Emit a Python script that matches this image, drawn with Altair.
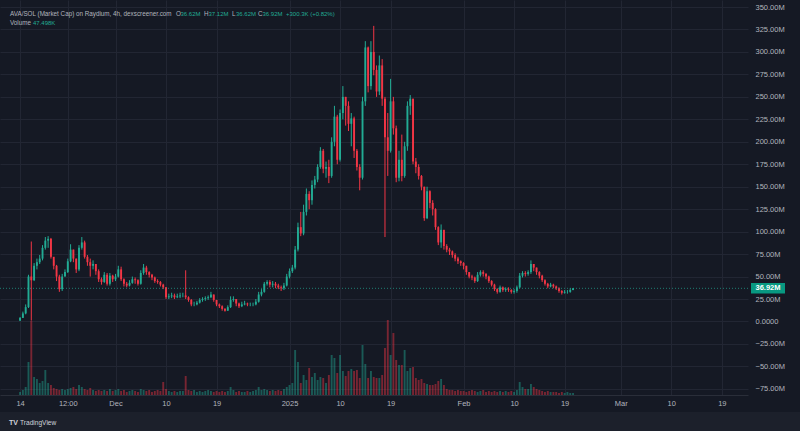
import altair as alt
import pandas as pd
import numpy as np

# ---------------- data (12h candles, market cap in M USD) ----------------
START = "2024-11-14T00:00:00Z"
FIRST_OPEN = 1.0
CLOSE = [4, 9, 16, 50, 46, 62, 66, 70, 82, 90,
         92, 72, 62, 50, 36, 50, 55, 67, 80, 70,
         58, 82, 88, 72, 66, 62, 64, 56, 47, 44,
         52, 42, 51, 47, 50, 58, 47, 42, 40, 43,
         47, 46, 42, 54, 60, 55, 52, 49, 45, 44,
         41, 38, 27, 28, 29, 27, 28, 29, 29, 27,
         24, 19, 19, 21, 24, 25, 26, 27, 30, 24,
         19, 17, 14, 12, 16, 24, 25, 20, 17, 19,
         20, 19, 19, 19, 22, 30, 33, 42, 44, 41,
         42, 40, 38, 37, 40, 50, 56, 60, 80, 105,
         98, 122, 142, 135, 152, 158, 172, 190, 170, 172,
         162, 200, 228, 180, 232, 250, 240, 220, 226, 190,
         172, 160, 245, 305, 262, 300, 280, 256, 285, 248,
         205, 190, 245, 215, 160, 180, 162, 195, 240, 248,
         178, 172, 162, 150, 115, 145, 132, 125, 105, 88,
         102, 84, 80, 78, 74, 70, 67, 65, 62, 55,
         50, 49, 45, 52, 55, 53, 50, 45, 41, 36,
         33, 38, 35, 36, 35, 33, 34, 38, 51, 54,
         53, 55, 64, 60, 55, 51, 46, 42, 39, 41,
         39, 37, 34, 32, 33, 33, 35, 36.92]
HIGH = [5, 11, 19, 52, 89, 65, 70, 74, 85, 94,
        95, 93, 68, 63, 52, 53, 58, 70, 86, 80,
        70, 85, 94, 90, 74, 70, 68, 64, 58, 49,
        55, 54, 54, 52, 53, 62, 61, 48, 44, 46,
        50, 49, 47, 57, 64, 62, 56, 53, 50, 47,
        45, 42, 38, 31, 32, 31, 31, 32, 32, 57,
        28, 25, 22, 23, 26, 27, 28, 29, 33, 30,
        24, 20, 18, 15, 18, 28, 28, 25, 21, 22,
        23, 21, 21, 21, 25, 33, 36, 44, 46, 46,
        45, 44, 42, 40, 43, 53, 59, 63, 84, 110,
        122, 130, 148, 145, 157, 162, 175, 194, 192, 178,
        180, 205, 240, 230, 236, 262, 250, 245, 232, 228,
        192, 175, 250, 312, 306, 312, 329, 285, 296, 292,
        250, 232, 270, 250, 218, 190, 208, 200, 245, 252,
        248, 182, 175, 163, 150, 150, 146, 135, 126, 106,
        108, 102, 86, 82, 79, 76, 72, 68, 66, 62,
        55, 52, 50, 55, 57, 57, 54, 51, 46, 42,
        37, 40, 39, 38, 38, 36, 36, 40, 54, 56,
        56, 57, 68, 64, 60, 56, 52, 47, 43, 43,
        42, 40, 38, 35, 35, 35, 37, 37.12]
LOW = [0.5, 4, 8, 15, 1, 45, 58, 64, 68, 80,
       82, 70, 58, 45, 33, 34, 50, 54, 66, 66,
       54, 56, 80, 70, 62, 50, 58, 52, 44, 41,
       43, 40, 40, 44, 45, 49, 45, 39, 38, 39,
       42, 42, 40, 41, 52, 52, 49, 46, 43, 42,
       39, 36, 25, 25, 26, 25, 26, 26, 27, 25,
       22, 17, 17, 18, 20, 22, 23, 24, 26, 22,
       17, 15, 12, 11, 12, 15, 22, 17, 15, 16,
       18, 17, 17, 17, 18, 21, 28, 32, 40, 38,
       38, 37, 36, 34, 35, 39, 48, 54, 58, 78,
       95, 96, 118, 125, 130, 148, 155, 170, 165, 160,
       154, 160, 195, 175, 178, 225, 218, 212, 195, 182,
       168, 146, 158, 240, 255, 258, 274, 250, 252, 240,
       94, 162, 188, 208, 155, 156, 156, 160, 190, 230,
       175, 165, 158, 146, 112, 114, 126, 118, 102, 85,
       82, 80, 77, 74, 71, 67, 64, 62, 58, 52,
       48, 46, 43, 44, 50, 50, 47, 43, 39, 34,
       31, 32, 33, 33, 33, 31, 31, 32, 37, 49,
       50, 51, 53, 56, 52, 48, 44, 40, 37, 38,
       37, 35, 32, 30, 31, 31, 32, 34.8]
VOLUME_K = [72, 120, 192, 792, 1776, 432, 384, 288, 336, 600,
            288, 240, 168, 144, 120, 144, 120, 144, 168, 192,
            144, 240, 192, 144, 120, 168, 120, 96, 120, 96,
            120, 96, 144, 96, 120, 144, 96, 120, 72, 96,
            120, 96, 72, 144, 120, 96, 120, 72, 96, 120,
            96, 312, 144, 96, 72, 96, 72, 96, 96, 456,
            120, 96, 120, 72, 96, 72, 96, 120, 96, 72,
            96, 72, 96, 72, 96, 192, 120, 72, 96, 72,
            72, 96, 72, 96, 120, 192, 120, 144, 120, 96,
            120, 96, 120, 96, 144, 192, 240, 288, 1080, 792,
            288, 480, 360, 648, 432, 528, 360, 432, 408, 288,
            480, 960, 888, 528, 960, 576, 456, 576, 624, 576,
            600, 408, 1200, 744, 408, 576, 432, 408, 408, 480,
            1128, 1800, 960, 1488, 840, 720, 720, 1080, 576, 648,
            672, 408, 360, 384, 288, 264, 240, 240, 264, 336,
            384, 240, 144, 120, 120, 96, 120, 96, 96, 72,
            96, 120, 96, 72, 96, 120, 72, 96, 72, 96,
            72, 96, 72, 96, 72, 96, 72, 120, 312, 192,
            144, 144, 264, 192, 144, 120, 96, 72, 96, 72,
            72, 72, 48, 72, 48, 72, 48, 48]

X_DOMAIN = ["2024-11-11T07:35:00Z", "2025-03-22T18:36:00Z"]
X_TICKS = ["2024-11-14T00:00:00Z", "2024-11-22T12:00:00Z", "2024-12-01T00:00:00Z",
           "2024-12-10T00:00:00Z", "2024-12-19T00:00:00Z", "2025-01-01T00:00:00Z",
           "2025-01-10T00:00:00Z", "2025-01-19T00:00:00Z", "2025-02-01T00:00:00Z",
           "2025-02-10T00:00:00Z", "2025-02-19T00:00:00Z", "2025-03-01T00:00:00Z",
           "2025-03-10T00:00:00Z", "2025-03-19T00:00:00Z"]
X_LABELS = ["14", "12:00", "Dec", "10", "19", "2025", "10", "19", "Feb", "10", "19",
            "Mar", "10", "19"]
Y_DOMAIN = [-81.8, 357.8]
Y_TICKS = [-75, -50, -25, 0, 25, 50, 75, 100, 125, 150, 175, 200, 225, 250, 275,
           300, 325, 350]
VOL_DOMAIN = [0, 9480]
LAST_PRICE = 36.92
LAST_LABEL = "36.92M"

TITLE = "AVA/SOL (Market Cap) on Raydium, 4h, dexscreener.com"
OHLC_KEYS = ["O", "H", "L", "C"]
OHLC_VALS = ["36.62M", "37.12M", "36.62M", "36.92M"]
CHANGE = "+300.3K (+0.82%)"
VOL_TEXT = "47.498K"

# ---------------- styling ----------------
BG = "#151924"
GREEN = "#22ab94"
RED = "#f23645"
TEXT = "#b2b5be"
GRID = "#222633"
FONT = "Liberation Sans"
W, H = 748, 395

def ms(s):
    return int(pd.Timestamp(s).value // 10**6)

times = pd.date_range(START, periods=len(CLOSE), freq="12h")
opens = [FIRST_OPEN] + CLOSE[:-1]
df = pd.DataFrame({
    "t": (times.asi8 // 10**6).astype("int64"),
    "open": opens, "close": CLOSE, "high": HIGH, "low": LOW, "vol": VOLUME_K,
})
df["dir"] = np.where(df["close"] >= df["open"], "up", "down")

tick_ms = [ms(s) for s in X_TICKS]
label_expr = ""
for v, lab in zip(tick_ms, X_LABELS):
    label_expr += f"time(datum.value) == {v} ? '{lab}' : "
label_expr += "''"

xscale = alt.Scale(type="utc", domain=[ms(X_DOMAIN[0]), ms(X_DOMAIN[1])], nice=False)
xaxis = alt.Axis(values=tick_ms, labelExpr=label_expr, grid=True, gridColor=GRID,
                 gridWidth=1, ticks=False, domain=True, domainColor="#2a2e39",
                 labelColor=TEXT, labelFont=FONT, labelFontSize=7.5, labelPadding=4,
                 labelOverlap=False, title=None)
xenc = alt.X("t:T", scale=xscale, axis=xaxis)

yscale = alt.Scale(domain=Y_DOMAIN, nice=False, zero=False)
yaxis = alt.Axis(orient="right", values=Y_TICKS,
                 labelExpr="datum.value == 0 ? '0.0000' : format(datum.value, '.2f') + 'M'",
                 grid=True, gridColor=GRID, gridWidth=1, ticks=False, domain=False,
                 labelColor=TEXT, labelFont=FONT, labelFontSize=7.5, labelPadding=7,
                 labelOverlap=False, title=None)

color = alt.Color("dir:N", scale=alt.Scale(domain=["up", "down"], range=[GREEN, RED]),
                  legend=None)

base = alt.Chart(df)

wicks = base.mark_rule(strokeWidth=1).encode(
    x=xenc, y=alt.Y("low:Q", scale=yscale, axis=yaxis), y2="high:Q", color=color)
bodies = base.mark_bar(width=1.9).encode(
    x=xenc, y=alt.Y("open:Q", scale=yscale, axis=yaxis), y2="close:Q", color=color)

last_df = pd.DataFrame({"p": [LAST_PRICE], "lo": [LAST_PRICE - 5.8], "hi": [LAST_PRICE + 5.8],
                        "lab": [LAST_LABEL]})
price_line = alt.Chart(last_df).mark_rule(color=GREEN, strokeDash=[1, 2], strokeWidth=1,
                                          opacity=0.7).encode(
    y=alt.Y("p:Q", scale=yscale, axis=yaxis))
price_box = alt.Chart(last_df).mark_rect(color="#089981").encode(
    x=alt.value(751), x2=alt.value(785),
    y=alt.Y("lo:Q", scale=yscale, axis=yaxis), y2="hi:Q")
price_txt = alt.Chart(last_df).mark_text(color="#ffffff", font=FONT, fontSize=7.5,
                                         fontWeight="bold", align="center",
                                         baseline="middle").encode(
    x=alt.value(768), y=alt.Y("p:Q", scale=yscale, axis=yaxis), text="lab:N")

price_group = alt.layer(wicks, bodies, price_line, price_box, price_txt)

volume = base.mark_bar(width=1.9, opacity=0.45).encode(
    x=xenc, y=alt.Y("vol:Q", scale=alt.Scale(domain=VOL_DOMAIN, nice=False), axis=None),
    color=color)

dummy = alt.Data(values=[{}])

def txt(s, x, y, col, size=6.3, weight="normal"):
    return alt.Chart(dummy).mark_text(text=s, align="left", baseline="middle", font=FONT,
                                      fontSize=size, color=col, fontWeight=weight).encode(
        x=alt.value(x), y=alt.value(y))

strip = alt.Chart(dummy).mark_rect(color="#1c202b").encode(
    x=alt.value(0), x2=alt.value(800), y=alt.value(412), y2=alt.value(431))

texts = [txt(TITLE, 10, 14, TEXT)]
key_x = [176, 204, 232, 258]
val_x = [180.5, 208.5, 236, 262.5]
for k, v, kx, vx in zip(OHLC_KEYS, OHLC_VALS, key_x, val_x):
    texts.append(txt(k, kx, 14, TEXT))
    texts.append(txt(v, vx, 14, GREEN, size=6.0))
texts.append(txt(CHANGE, 286, 14, GREEN, size=6.0))
texts.append(txt("Volume", 10, 23, TEXT))
texts.append(txt(VOL_TEXT, 33, 23, GREEN, size=6.0))
texts.append(txt("TV", 9, 423, "#d1d4dc", size=7, weight="bold"))
texts.append(txt("TradingView", 20, 423, "#d1d4dc", size=6.6))

chart = alt.layer(strip, volume, price_group, *texts).resolve_scale(
    y="independent"
).properties(
    width=W, height=H,
    autosize=alt.AutoSizeParams(type="none"),
    padding={"left": 0, "top": 0, "right": 52, "bottom": 36},
    background=BG,
).configure_view(stroke=None)

chart.save("out.html", embed_options={"renderer": "svg", "actions": False})
